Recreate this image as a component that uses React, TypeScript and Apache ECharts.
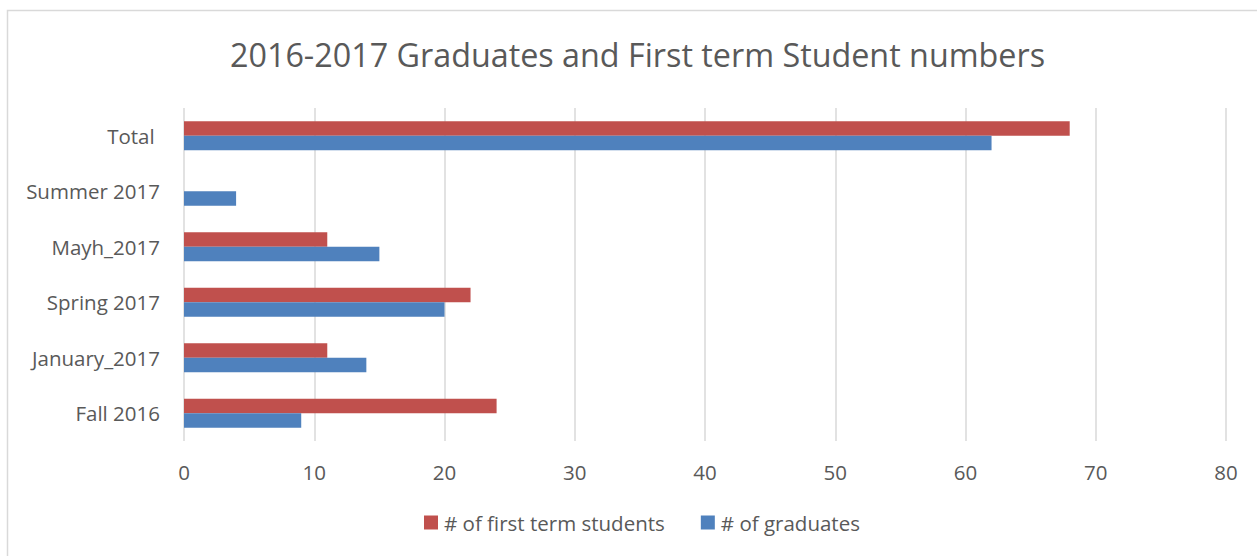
import React, { useEffect, useRef } from "react";
import * as echarts from "echarts";

const categories = ["Fall 2016", "January_2017", "Spring 2017", "Mayh_2017", "Summer 2017", "Total "];
const graduates = [9, 14, 20, 15, 4, 62];
const firstTerm = [24, 11, 22, 11, null, 68];
const xTicks = { min: 0, max: 80, interval: 10 };

const FONT = "'Open Sans', sans-serif";

export default function App() {
  const ref = useRef<HTMLDivElement>(null);
  useEffect(() => {
    const chart = echarts.init(ref.current!, null, { renderer: "svg" });
    chart.setOption({
      animation: false,
      backgroundColor: "#ffffff",
      title: {
        text: "2016-2017 Graduates and First term Student numbers",
        left: 225,
        top: 33,
        textStyle: { fontFamily: FONT, fontSize: 32.3, fontWeight: "normal", color: "#595959" },
      },
      graphic: [
        {
          type: "rect",
          shape: { x: 7.5, y: 10.5, width: 1270, height: 570 },
          style: { fill: "none", stroke: "#d9d9d9", lineWidth: 1.5 },
          silent: true,
        },
      ],
      legend: {
        bottom: 18,
        left: 419,
        itemWidth: 14,
        itemHeight: 14,
        itemGap: 36,
        icon: "rect",
        data: ["# of first term students", "# of graduates"],
        textStyle: { fontFamily: FONT, fontSize: 20.5, color: "#595959", padding: [0, 0, 0, 1] },
      },
      grid: { left: 184, right: 31, top: 108, bottom: 115, containLabel: false },
      xAxis: {
        type: "value",
        min: xTicks.min,
        max: xTicks.max,
        interval: xTicks.interval,
        axisLine: { show: false },
        axisTick: { show: false },
        axisLabel: { fontFamily: FONT, fontSize: 20.5, color: "#595959", margin: 20 },
        splitLine: { show: true, lineStyle: { color: "#d9d9d9", width: 1.5 } },
      },
      yAxis: {
        type: "category",
        data: categories,
        axisLine: { show: false },
        axisTick: { show: false },
        axisLabel: { fontFamily: FONT, fontSize: 20.5, color: "#595959", margin: 24 },
        splitLine: { show: false },
      },
      series: [
        {
          name: "# of first term students",
          type: "bar",
          data: firstTerm,
          itemStyle: { color: "#C0504D" },
          barGap: "0%",
          barCategoryGap: "48%",
        },
        {
          name: "# of graduates",
          type: "bar",
          data: graduates,
          itemStyle: { color: "#4F81BD" },
          barGap: "0%",
          barCategoryGap: "48%",
        },
      ],
    });
    return () => chart.dispose();
  }, []);
  return (
    <div
      ref={ref}
      style={{ position: "fixed", left: 0, top: 0, width: 1257, height: 556 }}
    />
  );
}
